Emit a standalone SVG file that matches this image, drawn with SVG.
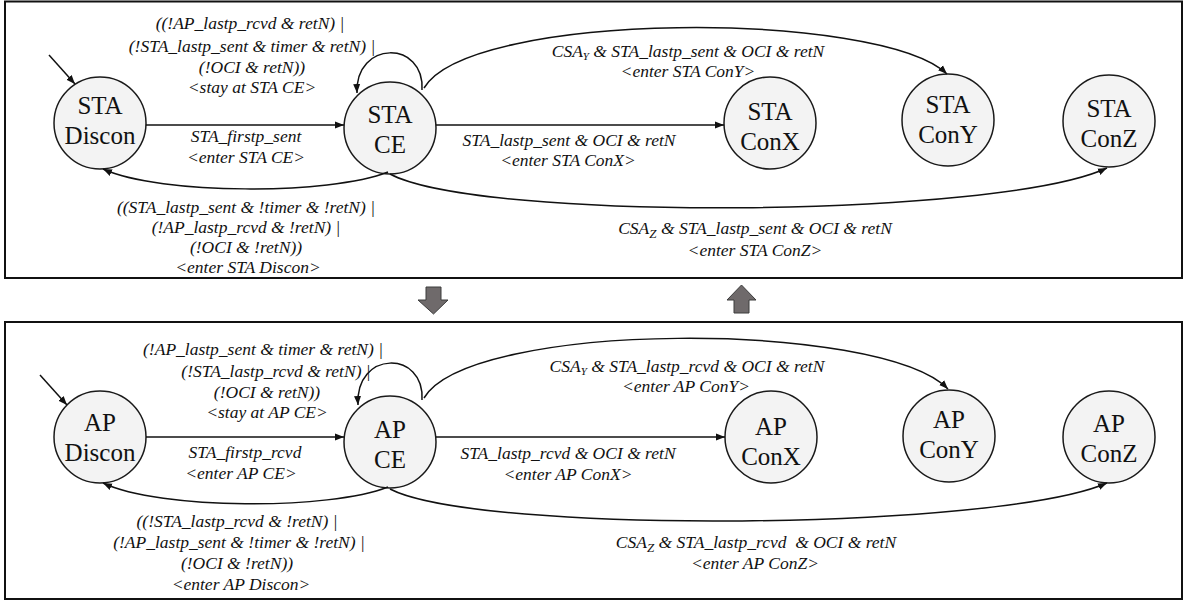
<svg xmlns="http://www.w3.org/2000/svg" width="1186" height="601" viewBox="0 0 1186 601">
<defs>
<marker id="ah" markerWidth="10" markerHeight="8" refX="9" refY="4" orient="auto" markerUnits="userSpaceOnUse">
<path d="M0,0.5 L9,4 L0,7.5 z" fill="#111"/>
</marker>
<style>
.panel{fill:none;stroke:#111;stroke-width:2}
.node circle{fill:#f3f3f3;stroke:#1a1a1a;stroke-width:1.5}
.nt{font-family:'Liberation Serif','Times New Roman',serif;font-size:25px;text-anchor:middle;fill:#111}
.lb{font-family:'Liberation Serif','Times New Roman',serif;font-style:italic;font-size:17.5px;text-anchor:middle;fill:#111}
.edge{fill:none;stroke:#111;stroke-width:1.5;marker-end:url(#ah)}
.blk{fill:#6f6a6b;stroke:#3c3c3c;stroke-width:1}
</style>
</defs>
<rect width="1186" height="601" fill="#fff"/>
<rect class="panel" x="5" y="1.5" width="1177" height="276.5"/>
<rect class="panel" x="5" y="322" width="1177" height="277"/>
<g id="transfer-arrows">
<path class="blk" d="M426,287 L441,287 L441,300 L448,300 L433.5,314 L418,300 L426,300 Z"/>
<path class="blk" d="M734,313 L749,313 L749,300 L756,300 L741.5,285 L727,300 L734,300 Z"/>
</g>
<g id="sta-discon" class="node"><circle cx="100" cy="123" r="46"/><text class="nt" x="100" y="114">STA</text><text class="nt" x="100" y="144">Discon</text></g>
<g id="sta-ce" class="node"><circle cx="390" cy="128" r="46"/><text class="nt" x="390" y="123">STA</text><text class="nt" x="390" y="153">CE</text></g>
<g id="sta-conx" class="node"><circle cx="770" cy="123" r="46"/><text class="nt" x="770" y="120">STA</text><text class="nt" x="770" y="150">ConX</text></g>
<g id="sta-cony" class="node"><circle cx="948" cy="120" r="46"/><text class="nt" x="948" y="113">STA</text><text class="nt" x="948" y="143">ConY</text></g>
<g id="sta-conz" class="node"><circle cx="1109" cy="121" r="46"/><text class="nt" x="1109" y="117">STA</text><text class="nt" x="1109" y="147">ConZ</text></g>
<g id="ap-discon" class="node"><circle cx="100" cy="437" r="46"/><text class="nt" x="100" y="431">AP</text><text class="nt" x="100" y="461">Discon</text></g>
<g id="ap-ce" class="node"><circle cx="390" cy="442" r="46"/><text class="nt" x="390" y="438">AP</text><text class="nt" x="390" y="468">CE</text></g>
<g id="ap-conx" class="node"><circle cx="771" cy="437" r="46"/><text class="nt" x="771" y="435">AP</text><text class="nt" x="771" y="465">ConX</text></g>
<g id="ap-cony" class="node"><circle cx="949" cy="436" r="46"/><text class="nt" x="949" y="428">AP</text><text class="nt" x="949" y="458">ConY</text></g>
<g id="ap-conz" class="node"><circle cx="1109" cy="437" r="46"/><text class="nt" x="1109" y="432">AP</text><text class="nt" x="1109" y="462">ConZ</text></g>
<g id="connectors">
<path class="edge" d="M49,55 L75,84"/>
<path class="edge" d="M146,125 L344,125"/>
<path class="edge" d="M422,90 C425,40 355,40 357,93"/>
<path class="edge" d="M424,88 C470,10 880,10 947,74"/>
<path class="edge" d="M436,125 L724,125"/>
<path class="edge" d="M388,172 C330,195 160,195 103,169"/>
<path class="edge" d="M390,174 C480,222 1000,218 1107,168"/>
<path class="edge" d="M40,375 L67,405"/>
<path class="edge" d="M146,437 L344,437"/>
<path class="edge" d="M422,400 C425,350 355,350 358,405"/>
<path class="edge" d="M424,398 C470,320 880,320 948,389"/>
<path class="edge" d="M436,437 L725,437"/>
<path class="edge" d="M388,487 C330,510 160,510 103,483"/>
<path class="edge" d="M390,489 C480,535 1000,530 1107,483"/>
<g id="top-labels">
<text class="lb" x="250" y="29">((!AP_lastp_rcvd &amp; retN) |</text>
<text class="lb" x="252" y="52">(!STA_lastp_sent &amp; timer &amp; retN) |</text>
<text class="lb" x="252" y="73">(!OCI &amp; retN))</text>
<text class="lb" x="252" y="93">&lt;stay at STA CE&gt;</text>
<text class="lb" x="246" y="142">STA_firstp_sent</text>
<text class="lb" x="246" y="163">&lt;enter STA CE&gt;</text>
<text class="lb" x="246" y="213">((STA_lastp_sent &amp; !timer &amp; !retN) |</text>
<text class="lb" x="246" y="233">(!AP_lastp_rcvd &amp; !retN) |</text>
<text class="lb" x="246" y="253">(!OCI &amp; !retN))</text>
<text class="lb" x="248" y="273">&lt;enter STA Discon&gt;</text>
<text class="lb" x="688" y="57">CSA<tspan font-size="11" dy="3">Y</tspan><tspan dy="-3"> &amp; STA_lastp_sent &amp; OCI &amp; retN</tspan></text>
<text class="lb" x="688" y="77">&lt;enter STA ConY&gt;</text>
<text class="lb" x="569" y="146">STA_lastp_sent &amp; OCI &amp; retN</text>
<text class="lb" x="568" y="166">&lt;enter STA ConX&gt;</text>
<text class="lb" x="755" y="234">CSA<tspan font-size="13" dy="4">Z</tspan><tspan dy="-4"> &amp; STA_lastp_sent &amp; OCI &amp; retN</tspan></text>
<text class="lb" x="755" y="256">&lt;enter STA ConZ&gt;</text>
</g>
<g id="bottom-labels">
<text class="lb" x="263" y="355">(!AP_lastp_sent &amp; timer &amp; retN) |</text>
<text class="lb" x="276" y="377">(!STA_lastp_rcvd &amp; retN) |</text>
<text class="lb" x="267" y="398">(!OCI &amp; retN))</text>
<text class="lb" x="267" y="418">&lt;stay at AP CE&gt;</text>
<text class="lb" x="245" y="458">STA_firstp_rcvd</text>
<text class="lb" x="241" y="479">&lt;enter AP CE&gt;</text>
<text class="lb" x="237" y="527">((!STA_lastp_rcvd &amp; !retN) |</text>
<text class="lb" x="239" y="548">(!AP_lastp_sent &amp; !timer &amp; !retN) |</text>
<text class="lb" x="237" y="569">(!OCI &amp; !retN))</text>
<text class="lb" x="241" y="590">&lt;enter AP Discon&gt;</text>
<text class="lb" x="687" y="372">CSA<tspan font-size="11" dy="3">Y</tspan><tspan dy="-3"> &amp; STA_lastp_rcvd &amp; OCI &amp; retN</tspan></text>
<text class="lb" x="686" y="392">&lt;enter AP ConY&gt;</text>
<text class="lb" x="568" y="459">STA_lastp_rcvd &amp; OCI &amp; retN</text>
<text class="lb" x="568" y="480">&lt;enter AP ConX&gt;</text>
<text class="lb" x="756" y="548" xml:space="preserve">CSA<tspan font-size="13" dy="4">Z</tspan><tspan dy="-4"> &amp; STA_lastp_rcvd  &amp; OCI &amp; retN</tspan></text>
<text class="lb" x="755" y="569">&lt;enter AP ConZ&gt;</text>
</g>
</g>
</svg>
